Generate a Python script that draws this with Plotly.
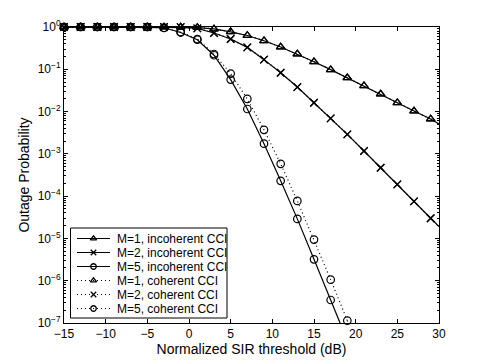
import plotly.graph_objects as go

# SIR threshold (dB) at marker positions
x_mark = [-15, -13, -11, -9, -7, -5, -3, -1, 1, 3, 5, 7, 9, 11, 13, 15, 17, 19, 21, 23, 25, 27, 29]

m1_incoh = [1.0, 1.0, 1.0, 1.0, 1.0, 1.0, 1.0, 0.995, 0.97, 0.9, 0.77, 0.63, 0.474, 0.337, 0.23,
            0.151, 0.098, 0.063, 0.041, 0.026, 0.0162, 0.0103, 0.0067]
m2_incoh = [1.0, 1.0, 1.0, 1.0, 1.0, 1.0, 1.0, 0.99, 0.93, 0.72, 0.52, 0.33, 0.169, 0.083, 0.038,
            0.0162, 0.0069, 0.00289, 0.00117, 4.7e-4, 1.9e-4, 7.5e-5, 3.0e-5]
m5_incoh = [1.0, 1.0, 1.0, 1.0, 1.0, 1.0, 0.96, 0.74, 0.50, 0.215, 0.057, 0.0115, 1.74e-3, 2.3e-4,
            2.9e-5, 3.2e-6, 3.5e-7]
m1_coh = list(m1_incoh)
m2_coh = list(m2_incoh)
m5_coh = [1.0, 1.0, 1.0, 1.0, 1.0, 1.0, 0.95, 0.76, 0.52, 0.23, 0.079, 0.0199, 3.7e-3, 5.8e-4,
          7.7e-5, 9.4e-6, 1.06e-6, 1.14e-7]

# where the curves leave the plot (line continuation only)
end_x = {'m1': 30, 'm2': 30, 'm5': 19, 'm5c': 21}
end_y = {'m1': 0.0051, 'm2': 1.9e-5, 'm5': 3.8e-8, 'm5c': 1.2e-8}

series = [
    ('M=1, incoherent CCI', m1_incoh, 'triangle-up-open', 'solid', 'm1'),
    ('M=2, incoherent CCI', m2_incoh, 'x-thin-open', 'solid', 'm2'),
    ('M=5, incoherent CCI', m5_incoh, 'circle-open', 'solid', 'm5'),
    ('M=1, coherent CCI', m1_coh, 'triangle-up-open', 'dot', 'm1'),
    ('M=2, coherent CCI', m2_coh, 'x-thin-open', 'dot', 'm2'),
    ('M=5, coherent CCI', m5_coh, 'circle-open', 'dot', 'm5c'),
]

DOT = '1px,3px'
PAD = 8  # page body margin
W, H = 485 - PAD, 364 - PAD
L, R, T, B = 64, 439, 27, 323  # plot area in page pixels

fig = go.Figure()
for name, ys, sym, dash, key in series:
    xs = x_mark[:len(ys)]
    d = DOT if dash == 'dot' else 'solid'
    fig.add_trace(go.Scatter(
        x=xs, y=ys, name=name, mode='lines+markers', cliponaxis=False, showlegend=False,
        line=dict(color='black', width=1.2, dash=d),
        marker=dict(symbol=sym, size=7.5, color='black', line=dict(width=1.2, color='black')),
    ))
    fig.add_trace(go.Scatter(
        x=[xs[-1], end_x[key]], y=[ys[-1], end_y[key]], mode='lines', showlegend=False,
        line=dict(color='black', width=1.2, dash=d), hoverinfo='skip',
    ))

# hand-built legend (page-pixel coordinates on an overlay axis)
row_y = [238.5 + 14 * i for i in range(6)]
fig.add_shape(type='rect', xref='x2', yref='y2', x0=70.5, x1=227, y0=228, y1=318,
              line=dict(color='black', width=1), fillcolor='white', layer='below')
for (name, ys, sym, dash, key), ry in zip(series, row_y):
    fig.add_shape(type='line', xref='x2', yref='y2', x0=77, x1=110, y0=ry, y1=ry, layer='below',
                  line=dict(color='black', width=1.2, dash=DOT if dash == 'dot' else 'solid'))
    fig.add_annotation(xref='x2', yref='y2', x=115, y=ry, text=name, showarrow=False,
                       xanchor='left', yanchor='middle', font=dict(size=12))
fig.add_trace(go.Scatter(
    x=[93.5] * 6, y=row_y, mode='markers', xaxis='x2', yaxis='y2', showlegend=False,
    marker=dict(symbol=[s[2] for s in series], size=5.5, color='black',
                line=dict(width=1.3, color='black')),
    hoverinfo='skip',
))

ytick_vals = [10 ** -k for k in range(0, 8)]
ytick_text = ['10<sup>0</sup>'] + ['10<sup>\u2212%d</sup>' % k for k in range(1, 8)]
minor_vals = [m * 10 ** -k for k in range(1, 8) for m in range(2, 10)]

fig.update_layout(
    width=W, height=H,
    margin=dict(l=L - PAD, r=485 - R, t=T - PAD, b=364 - B, autoexpand=False),
    paper_bgcolor='white', plot_bgcolor='white',
    font=dict(family='Liberation Sans, Arial, sans-serif', size=12, color='black'),
    showlegend=False,
    xaxis=dict(
        range=[-15, 30], tickvals=[-15, -10, -5, 0, 5, 10, 15, 20, 25, 30],
        ticktext=['\u221215', '\u221210', '\u22125', '0', '5', '10', '15', '20', '25', '30'],
        ticks='inside', ticklen=4, tickcolor='black', mirror='ticks', automargin=False,
        showline=True, linecolor='black', linewidth=1, showgrid=False, zeroline=False,
        title=dict(text='Normalized SIR threshold (dB)', standoff=0),
    ),
    yaxis=dict(
        type='log', range=[-7, 0], tickvals=ytick_vals, ticktext=ytick_text,
        ticks='inside', ticklen=4, tickcolor='black', mirror='ticks', automargin=False,
        showline=True, linecolor='black', linewidth=1, showgrid=False, zeroline=False,
        minor=dict(ticks='inside', ticklen=2, tickcolor='black', tickmode='array',
                   tickvals=minor_vals, showgrid=False),
        title=dict(text='Outage Probability', standoff=4),
    ),
    xaxis2=dict(overlaying='x', range=[L, R], visible=False, fixedrange=True),
    yaxis2=dict(overlaying='y', range=[B, T], visible=False, fixedrange=True),
)

fig.write_html("out.html")
